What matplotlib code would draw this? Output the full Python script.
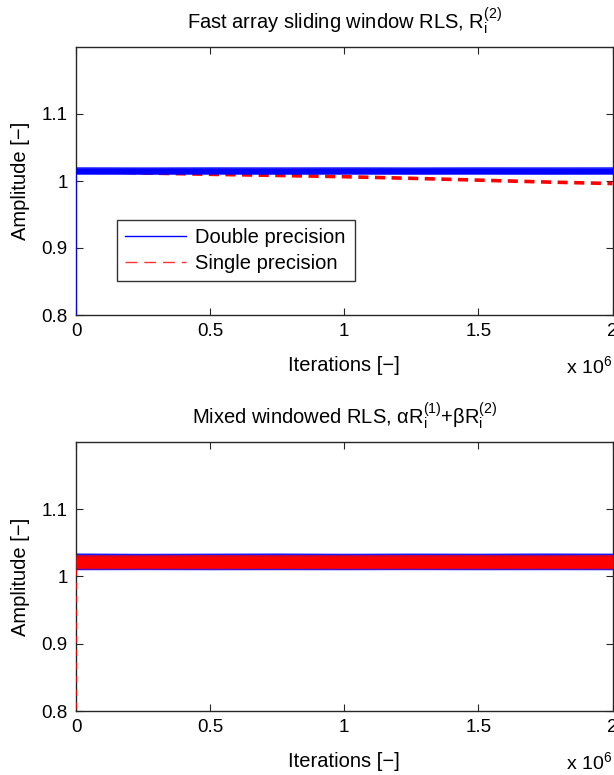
import matplotlib
matplotlib.use('Agg')
import matplotlib.pyplot as plt
from matplotlib.lines import Line2D
from matplotlib.ticker import FuncFormatter, FixedLocator

plt.rcParams['font.family'] = ['Liberation Sans', 'DejaVu Sans']
plt.rcParams['mathtext.fontset'] = 'custom'
plt.rcParams['mathtext.rm'] = 'Liberation Sans'
plt.rcParams['mathtext.it'] = 'Liberation Sans:italic'
plt.rcParams['mathtext.bf'] = 'Liberation Sans:bold'
plt.rcParams['font.size'] = 14

# ---------------- data ----------------
iters = [0, 250e3, 500e3, 750e3, 1000e3, 1250e3, 1500e3, 1750e3, 2000e3]

# start transient at iteration 0 (value goes below axis) then settles
start_iters = [0, 0, 3e3]
top_double_start = [0.0, 1.015, 1.015]
bot_double_start = [0.0, 1.039, 1.022]
bot_single_start = [0.0, 1.022, 1.022]

# Top panel: fast array sliding window RLS
top_double_outer_lo = [1.0098, 1.0097, 1.0098, 1.0097, 1.0098, 1.0097, 1.0098, 1.0097, 1.0098]
top_double_outer_hi = [1.0215, 1.0213, 1.0215, 1.0214, 1.0215, 1.0213, 1.0215, 1.0214, 1.0215]
top_double_core_lo = [1.0112, 1.0111, 1.0112, 1.0112, 1.0111, 1.0112, 1.0112, 1.0111, 1.0112]
top_double_core_hi = [1.0195, 1.0196, 1.0195, 1.0194, 1.0195, 1.0196, 1.0195, 1.0195, 1.0194]
top_single = [1.0150, 1.0120, 1.0100, 1.0083, 1.0064, 1.0040, 1.0013, 0.9985, 0.9962]

# Bottom panel: mixed windowed RLS
bot_double_lo = [1.0100, 1.0102, 1.0100, 1.0101, 1.0100, 1.0102, 1.0100, 1.0101, 1.0100]
bot_double_hi = [1.0350, 1.0345, 1.0348, 1.0350, 1.0346, 1.0349, 1.0347, 1.0350, 1.0348]
bot_single_outer_lo = [1.0115, 1.0116, 1.0115, 1.0117, 1.0115, 1.0116, 1.0115, 1.0116, 1.0115]
bot_single_outer_hi = [1.0325, 1.0323, 1.0326, 1.0325, 1.0324, 1.0326, 1.0325, 1.0323, 1.0326]
bot_single_core_lo = [1.0135, 1.0136, 1.0135, 1.0135, 1.0136, 1.0135, 1.0135, 1.0136, 1.0135]
bot_single_core_hi = [1.0295, 1.0294, 1.0295, 1.0296, 1.0295, 1.0294, 1.0295, 1.0295, 1.0296]

xticks = [0, 0.5e6, 1.0e6, 1.5e6, 2.0e6]
xtick_labels = ['0', '0.5', '1', '1.5', '2']
yticks = [0.8, 0.9, 1.0, 1.1]
ytick_labels = ['0.8', '0.9', '1', '1.1']

titles = [r'Fast array sliding window RLS, R$_\mathregular{i}^\mathregular{(2)}$',
          r'Mixed windowed RLS, αR$_\mathregular{i}^\mathregular{(1)}$+βR$_\mathregular{i}^\mathregular{(2)}$']

BLUE = '#0000ff'
RED = '#ff0000'

fig = plt.figure(figsize=(6.14, 7.75), dpi=100)
W, H = 614, 775
ax_top = fig.add_axes([76 / W, 1 - 315 / H, 536.5 / W, 268 / H])
ax_bot = fig.add_axes([76 / W, 1 - 711 / H, 536.5 / W, 269 / H])


def style(ax, title):
    ax.set_xlim(0, 2e6)
    ax.set_ylim(0.8, 1.2)
    ax.xaxis.set_major_locator(FixedLocator(xticks))
    ax.xaxis.set_major_formatter(FuncFormatter(lambda v, p: xtick_labels[xticks.index(v)] if v in xticks else ''))
    ax.yaxis.set_major_locator(FixedLocator(yticks))
    ax.set_yticklabels(ytick_labels)
    ax.tick_params(direction='in', top=True, right=True, length=5, width=0.8,
                   labelsize=13.5, pad=6, colors='#262626', labelcolor='black')
    for s in ax.spines.values():
        s.set_linewidth(1.0)
        s.set_color('#262626')
    ax.set_title(title, fontsize=14.5, pad=13)
    ax.set_xlabel('Iterations [−]', fontsize=14.5, labelpad=11)
    ax.set_ylabel('Amplitude [−]', fontsize=14.5, labelpad=8)
    ax.text(1.0, -0.15, r'x 10$^\mathregular{6}$', transform=ax.transAxes,
            ha='right', va='top', fontsize=14)


# ---- top panel ----
ax = ax_top
ax.plot(iters, top_single, color=RED, lw=2.6, linestyle=(0, (2.8, 1.8)), zorder=2)
ax.plot(start_iters, top_double_start, color=BLUE, lw=1.2, zorder=3)
ax.fill_between(iters, top_double_outer_lo, top_double_outer_hi, color=BLUE, alpha=0.75, lw=0, zorder=3)
ax.fill_between(iters, top_double_core_lo, top_double_core_hi, color=BLUE, lw=0, zorder=3)
style(ax, titles[0])
handles = [Line2D([], [], color=BLUE, lw=1.0),
           Line2D([], [], color=RED, lw=1.0, linestyle=(0, (8.5, 5)), alpha=0.8)]
leg = ax.legend(handles, ['Double precision', 'Single precision'],
                loc='lower left', bbox_to_anchor=(0.0765, 0.127, 0.4435, 0.23),
                mode='expand', fontsize=14.5, frameon=True, fancybox=False,
                handlelength=3.0, handletextpad=0.45, borderpad=0.4,
                labelspacing=0.32, borderaxespad=0)
leg.get_frame().set_edgecolor('black')
leg.get_frame().set_linewidth(1.0)

# ---- bottom panel ----
ax = ax_bot
ax.plot(start_iters, bot_double_start, color=BLUE, lw=1.2, zorder=2)
ax.fill_between(iters, bot_double_lo, bot_double_hi, color=BLUE, alpha=0.9, lw=0, zorder=2)
ax.plot(start_iters, bot_single_start, color=RED, lw=1.2, linestyle=(0, (4, 4)), zorder=3)
ax.fill_between(iters, bot_single_outer_lo, bot_single_outer_hi, color=RED, alpha=0.85, lw=0, zorder=3)
ax.fill_between(iters, bot_single_core_lo, bot_single_core_hi, color=RED, lw=0, zorder=3)
style(ax, titles[1])

fig.savefig('out.png', dpi=100)
